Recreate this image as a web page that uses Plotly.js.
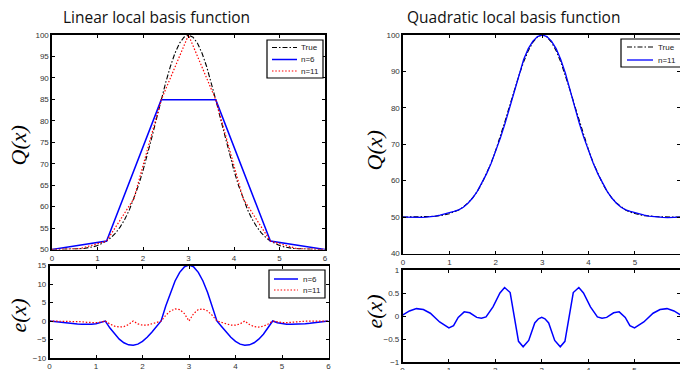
<!DOCTYPE html>
<html>
<head>
<meta charset="utf-8">
<script src="https://cdn.plot.ly/plotly-3.0.1.min.js"></script>
<style>html,body{margin:0;padding:0;background:#fff;}#chart{width:680px;height:370px;}</style>
</head>
<body>
<div id="chart"></div>
<script>
// ---- data ----
const xs = [0,0.1,0.2,0.3,0.4,0.5,0.6,0.7,0.8,0.9,1,1.1,1.2,1.3,1.4,1.5,1.6,1.7,1.8,1.9,2,2.1,2.2,2.3,2.4,2.5,2.6,2.7,2.8,2.9,3,3.1,3.2,3.3,3.4,3.5,3.6,3.7,3.8,3.9,4,4.1,4.2,4.3,4.4,4.5,4.6,4.7,4.8,4.9,5,5.1,5.2,5.3,5.4,5.5,5.6,5.7,5.8,5.9,6];
const qTrue = [50.01,50.01,50.02,50.03,50.06,50.10,50.16,50.25,50.40,50.61,50.92,51.35,51.96,52.78,53.87,55.27,57.04,59.23,61.85,64.91,68.39,72.24,76.36,80.63,84.88,88.94,92.61,95.70,98.04,99.50,100,99.50,98.04,95.70,92.61,88.94,84.88,80.63,76.36,72.24,68.39,64.91,61.85,59.23,57.04,55.27,53.87,52.78,51.96,51.35,50.92,50.61,50.40,50.25,50.16,50.10,50.06,50.03,50.02,50.01,50.01];
const nodes6 = [0,1.2,2.4,3.6,4.8,6];
const qLin6 = [50.01,51.96,84.88,84.88,51.96,50.01];
const nodes11 = [0,0.6,1.2,1.8,2.4,3,3.6,4.2,4.8,5.4,6];
const qLin11 = [50.01,50.16,51.96,61.85,84.88,100,84.88,61.85,51.96,50.16,50.01];
const eLin6 = [0,-0.16,-0.31,-0.47,-0.60,-0.72,-0.82,-0.90,-0.91,-0.86,-0.72,-0.45,0,-1.92,-3.58,-4.92,-5.89,-6.45,-6.57,-6.25,-5.52,-4.41,-3.03,-1.51,0,4.06,7.73,10.82,13.16,14.62,15.12,14.62,13.16,10.82,7.73,4.06,0,-1.51,-3.03,-4.41,-5.52,-6.25,-6.57,-6.45,-5.89,-4.92,-3.58,-1.92,0,-0.45,-0.72,-0.86,-0.91,-0.90,-0.82,-0.72,-0.60,-0.47,-0.31,-0.16,0];
const eLin11 = [0,-0.03,-0.04,-0.06,-0.05,-0.04,0,-0.21,-0.36,-0.45,-0.44,-0.31,0,-0.83,-1.39,-1.64,-1.51,-0.97,0,-0.78,-1.14,-1.13,-0.84,-0.41,0,1.54,2.69,3.26,3.08,2.02,0,2.02,3.08,3.26,2.69,1.54,0,-0.41,-0.84,-1.13,-1.14,-0.78,0,-0.97,-1.51,-1.64,-1.39,-0.83,0,-0.31,-0.44,-0.45,-0.36,-0.21,0,-0.04,-0.05,-0.06,-0.04,-0.03,0];
const qQuad11 = [49.99,49.93,49.89,49.87,49.91,49.99,50.10,50.29,50.53,50.81,51.18,51.56,51.99,52.70,53.79,55.23,57.07,59.28,61.87,64.79,68.09,71.74,75.74,80.10,84.80,89.49,93.28,96.26,98.34,99.58,100.02,99.58,98.34,96.26,93.28,89.49,84.80,80.10,75.74,71.74,68.09,64.79,61.87,59.28,57.07,55.23,53.79,52.70,51.99,51.56,51.18,50.81,50.53,50.29,50.10,49.99,49.91,49.87,49.89,49.93,49.99];
const xQuadErr = [0,0.15,0.3,0.45,0.6,0.8,1.0,1.1,1.2,1.33,1.45,1.6,1.7,1.8,1.95,2.1,2.2,2.32,2.5,2.6,2.72,2.85,2.93,3.0,3.07,3.15,3.28,3.4,3.5,3.68,3.8,3.9,4.05,4.2,4.3,4.4,4.55,4.67,4.8,4.9,5.0,5.2,5.4,5.55,5.7,5.85,6.0];
const eQuad11 = [0.02,0.11,0.16,0.14,0.06,-0.13,-0.26,-0.21,-0.03,0.09,0.07,-0.03,-0.05,-0.02,0.2,0.5,0.62,0.51,-0.55,-0.67,-0.53,-0.15,-0.06,-0.03,-0.06,-0.15,-0.53,-0.67,-0.55,0.51,0.62,0.5,0.2,-0.02,-0.05,-0.03,0.07,0.09,-0.03,-0.21,-0.26,-0.13,0.06,0.14,0.16,0.11,0.02];
const xTicks = [0,1,2,3,4,5,6];
const yTicksTL = [50,55,60,65,70,75,80,85,90,95,100];
const yTicksBL = [-10,-5,0,5,10,15];
const yTicksTR = [40,50,60,70,80,90,100];
const yTicksBR = [-1,-0.5,0,0.5,1];
const titles = ["Linear local basis function", "Quadratic local basis function"];

// ---- styles ----
const BLUE = '#0000ff', RED = '#ff0000', BLACK = '#000000';
const DOT = '1.5px,1.8px';
const DASHDOT = '5px,2px,1.5px,2px';
const W = 680, H = 370;
const PX = p => p / W, PY = p => 1 - p / H;

function ax(domain, range, tickvals, anchor) {
  return {
    domain: domain, range: range, anchor: anchor,
    tickmode: 'array', tickvals: tickvals,
    showline: true, linecolor: BLACK, linewidth: 1.6, mirror: 'allticks',
    ticks: 'inside', ticklen: 3, tickwidth: 1, tickcolor: BLACK,
    showgrid: false, zeroline: false, fixedrange: true,
    tickfont: {family: 'Liberation Sans, Arial, sans-serif', size: 8, color: '#333'}
  };
}

const traces = [
  {x: xs, y: qTrue, xaxis: 'x', yaxis: 'y', mode: 'lines', name: 'True', line: {color: BLACK, width: 1.1, dash: DASHDOT}},
  {x: nodes6, y: qLin6, xaxis: 'x', yaxis: 'y', mode: 'lines', name: 'n=6', line: {color: BLUE, width: 1.5}},
  {x: nodes11, y: qLin11, xaxis: 'x', yaxis: 'y', mode: 'lines', name: 'n=11', line: {color: RED, width: 1.2, dash: DOT}},
  {x: xs, y: eLin6, xaxis: 'x2', yaxis: 'y2', mode: 'lines', name: 'n=6', line: {color: BLUE, width: 1.5}},
  {x: xs, y: eLin11, xaxis: 'x2', yaxis: 'y2', mode: 'lines', name: 'n=11', line: {color: RED, width: 1.2, dash: DOT}},
  {x: xs, y: qTrue, xaxis: 'x3', yaxis: 'y3', mode: 'lines', name: 'True', line: {color: BLACK, width: 1.1, dash: DASHDOT}},
  {x: xs, y: qQuad11, xaxis: 'x3', yaxis: 'y3', mode: 'lines', name: 'n=11', line: {color: BLUE, width: 1.3}},
  {x: xQuadErr, y: eQuad11, xaxis: 'x4', yaxis: 'y4', mode: 'lines', name: 'n=11', line: {color: BLUE, width: 1.5}}
];
traces.forEach(t => t.showlegend = false);

// custom legends (MATLAB-style compact boxes)
const shapes = [];
const annotations = [];
function legendBox(x0, y0, x1, y1, items) {
  shapes.push({type: 'rect', xref: 'paper', yref: 'paper', x0: PX(x0), x1: PX(x1), y0: PY(y0), y1: PY(y1),
    line: {color: BLACK, width: 1.2}, fillcolor: '#fff', layer: 'above'});
  items.forEach(it => {
    shapes.push({type: 'line', xref: 'paper', yref: 'paper', x0: PX(it.lx0), x1: PX(it.lx1), y0: PY(it.y), y1: PY(it.y),
      line: {color: it.color, width: it.width, dash: it.dash}, layer: 'above'});
    annotations.push({xref: 'paper', yref: 'paper', x: PX(it.tx), y: PY(it.y), xanchor: 'left', yanchor: 'middle',
      text: it.text, showarrow: false, font: {family: 'Liberation Sans, Arial, sans-serif', size: 8, color: '#222'}});
  });
}
legendBox(267, 40, 323, 78, [
  {lx0: 272, lx1: 297, tx: 299, y: 47.5, text: 'True', color: BLACK, width: 1.1, dash: DASHDOT},
  {lx0: 272, lx1: 297, tx: 299, y: 59.5, text: 'n=6', color: BLUE, width: 1.5, dash: 'solid'},
  {lx0: 272, lx1: 297, tx: 299, y: 71, text: 'n=11', color: RED, width: 1.2, dash: DOT}
]);
legendBox(269, 270, 325, 298, [
  {lx0: 274, lx1: 298, tx: 301, y: 279, text: 'n=6', color: BLUE, width: 1.5, dash: 'solid'},
  {lx0: 274, lx1: 298, tx: 301, y: 290, text: 'n=11', color: RED, width: 1.2, dash: DOT}
]);
legendBox(621, 39, 684, 67, [
  {lx0: 627, lx1: 653, tx: 656, y: 47, text: 'True', color: BLACK, width: 1.1, dash: DASHDOT},
  {lx0: 627, lx1: 653, tx: 656, y: 60, text: 'n=11', color: BLUE, width: 1.3, dash: 'solid'}
]);

// titles
annotations.push({xref: 'paper', yref: 'paper', x: PX(156), y: PY(17), xanchor: 'center', yanchor: 'middle', showarrow: false,
  text: titles[0], font: {family: 'Open Sans, Noto Sans, sans-serif', size: 15.5, color: '#111'}});
annotations.push({xref: 'paper', yref: 'paper', x: PX(513.5), y: PY(17), xanchor: 'center', yanchor: 'middle', showarrow: false,
  text: titles[1], font: {family: 'Open Sans, Noto Sans, sans-serif', size: 15.5, color: '#111'}});
// y-axis labels
const yLab = (x, y, t) => annotations.push({xref: 'paper', yref: 'paper', x: PX(x), y: PY(y), xanchor: 'center', yanchor: 'middle',
  showarrow: false, textangle: -90, text: t, font: {family: 'Liberation Serif, Times New Roman, serif', size: 22, color: '#000', style: 'italic'}});
yLab(17.5, 146, 'Q(x)');
yLab(17.5, 316, 'e(x)');
yLab(373.5, 151, 'Q(x)');
yLab(373.5, 312, 'e(x)');

const layout = {
  width: W, height: H,
  margin: {l: 0, r: 0, t: 0, b: 0},
  paper_bgcolor: '#fff', plot_bgcolor: '#fff',
  showlegend: false,
  xaxis: ax([PX(52), PX(325)], [0, 6], xTicks, 'y'),
  yaxis: ax([PY(249.5), PY(35)], [50, 100], yTicksTL, 'x'),
  xaxis2: ax([PX(49.5), PX(328.5)], [0, 6], xTicks, 'y2'),
  yaxis2: ax([PY(358), PY(265.5)], [-10, 15], yTicksBL, 'x2'),
  xaxis3: ax([PX(403), 1], [0, 5.97], xTicks, 'y3'),
  yaxis3: ax([PY(253.5), PY(35)], [40, 100], yTicksTR, 'x3'),
  xaxis4: ax([PX(402.5), 1], [0, 5.98], xTicks, 'y4'),
  yaxis4: ax([PY(362), PY(270)], [-1, 1], yTicksBR, 'x4'),
  shapes: shapes,
  annotations: annotations
};

Plotly.newPlot('chart', traces, layout, {displayModeBar: false, staticPlot: true});
</script>
</body>
</html>
